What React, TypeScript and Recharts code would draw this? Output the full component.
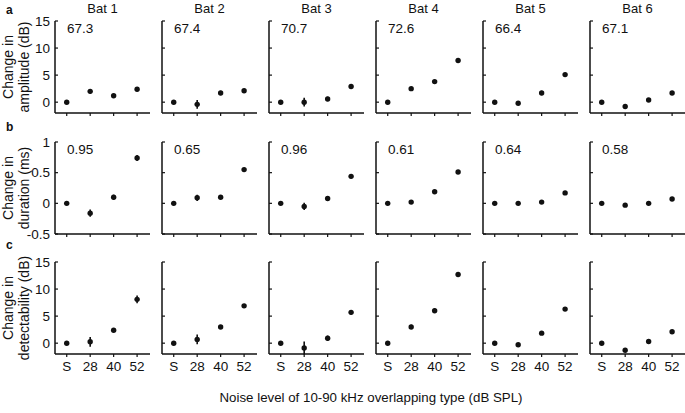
import { ScatterChart, Scatter, XAxis, YAxis, ErrorBar } from 'recharts';

// noise conditions on the x axis
const CATS = ['S', '28', '40', '52'];
const BATS = ['Bat 1', 'Bat 2', 'Bat 3', 'Bat 4', 'Bat 5', 'Bat 6'];

// row a: change in amplitude (dB)
const AMP = [
  [0, 2.0, 1.2, 2.4],
  [0, -0.4, 1.7, 2.1],
  [0, 0.0, 0.6, 2.9],
  [0, 2.5, 3.8, 7.7],
  [0, -0.2, 1.7, 5.1],
  [0, -0.8, 0.4, 1.7],
];
const AMP_ERR = [
  [0.2, 0.4, 0.3, 0.4],
  [0.2, 0.8, 0.4, 0.3],
  [0.2, 0.8, 0.4, 0.3],
  [0.2, 0.3, 0.3, 0.3],
  [0.2, 0.3, 0.4, 0.3],
  [0.2, 0.3, 0.3, 0.3],
];
const AMP_NOTES = ['67.3', '67.4', '70.7', '72.6', '66.4', '67.1'];

// row b: change in duration (ms)
const DUR = [
  [0, -0.16, 0.1, 0.74],
  [0, 0.09, 0.1, 0.55],
  [0, -0.05, 0.08, 0.44],
  [0, 0.02, 0.19, 0.51],
  [0, 0.0, 0.02, 0.17],
  [0, -0.03, 0.0, 0.07],
];
const DUR_ERR = [
  [0.02, 0.06, 0.04, 0.05],
  [0.02, 0.05, 0.03, 0.02],
  [0.02, 0.06, 0.03, 0.03],
  [0.02, 0.02, 0.02, 0.02],
  [0.02, 0.02, 0.02, 0.02],
  [0.02, 0.02, 0.02, 0.02],
];
const DUR_NOTES = ['0.95', '0.65', '0.96', '0.61', '0.64', '0.58'];

// row c: change in detectability (dB)
const DET = [
  [0, 0.25, 2.4, 8.1],
  [0, 0.7, 3.0, 6.9],
  [0, -0.9, 0.9, 5.7],
  [0, 3.0, 6.0, 12.7],
  [0, -0.3, 1.85, 6.3],
  [0, -1.3, 0.3, 2.1],
];
const DET_ERR = [
  [0.2, 0.9, 0.3, 0.7],
  [0.2, 0.9, 0.3, 0.3],
  [0.2, 1.2, 0.5, 0.4],
  [0.2, 0.4, 0.4, 0.4],
  [0.2, 0.3, 0.3, 0.3],
  [0.2, 0.3, 0.3, 0.3],
];

const ROWS = [
  { letter: 'a', values: AMP, errs: AMP_ERR, domain: [-2, 15], ticks: [0, 5, 10, 15], notes: AMP_NOTES, title: ['Change in', 'amplitude (dB)'] },
  { letter: 'b', values: DUR, errs: DUR_ERR, domain: [-0.5, 1], ticks: [-0.5, 0, 0.5, 1], notes: DUR_NOTES, title: ['Change in', 'duration (ms)'] },
  { letter: 'c', values: DET, errs: DET_ERR, domain: [-2, 15], ticks: [0, 5, 10, 15], notes: null, title: ['Change in', 'detectability (dB)'] },
];

const INK = '#111';
const COL_X = 55;
const COL_STEP = 107;
const PLOT_W = 95;
const PLOT_H = 92;
const ROW_TOP = [21, 142, 262];
const LETTER_Y = [14, 131, 249];

const YTick = ({ x, y, payload, showLabel }: any) => (
  <g>
    <line x1={x + 5} x2={x + 8} y1={y} y2={y} stroke={INK} strokeWidth={1.2} />
    {showLabel && (
      <text x={x} y={y + 4.8} textAnchor="end" fontSize={13.5} fill={INK}>
        {payload.value}
      </text>
    )}
  </g>
);

const XTick = ({ x, y, payload, showLabel }: any) =>
  showLabel ? (
    <text x={x} y={y + 10} textAnchor="middle" fontSize={13.5} fill={INK}>
      {CATS[payload.value - 1]}
    </text>
  ) : (
    <g />
  );

function Panel({ row, col }: { row: number; col: number }) {
  const r = ROWS[row];
  const data = CATS.map((c, i) => ({ x: i + 1, y: r.values[col][i], err: r.errs[col][i] }));
  return (
    <div style={{ position: 'absolute', left: COL_X + col * COL_STEP - 40, top: ROW_TOP[row] - 10 }}>
      <ScatterChart width={40 + PLOT_W + 10} height={10 + PLOT_H + 25} margin={{ top: 10, right: 10, bottom: 0, left: 30 }}>
        <XAxis
          type="number"
          dataKey="x"
          domain={[0.5, 4.55]}
          ticks={[1, 2, 3, 4]}
          interval={0}
          height={25}
          tickSize={3}
          tickMargin={4}
          tickLine={{ stroke: INK, strokeWidth: 1.2 }}
          axisLine={{ stroke: INK, strokeWidth: 1.5 }}
          tick={<XTick showLabel={row === 2} />}
        />
        <YAxis
          type="number"
          dataKey="y"
          domain={r.domain}
          ticks={r.ticks}
          interval={0}
          allowDataOverflow
          width={10}
          tickSize={0}
          tickMargin={5}
          tickLine={false}
          axisLine={{ stroke: INK, strokeWidth: 1.5 }}
          tick={<YTick showLabel={col === 0} />}
        />
        <Scatter
          data={data}
          isAnimationActive={false}
          shape={(p: any) => <circle cx={p.cx} cy={p.cy} r={2.7} fill={INK} />}
        >
          <ErrorBar dataKey="err" direction="y" width={0} stroke={INK} strokeWidth={1.6} isAnimationActive={false} />
        </Scatter>
      </ScatterChart>
    </div>
  );
}

export default function App() {
  return (
    <div
      style={{
        position: 'absolute',
        left: 0,
        top: 0,
        width: 685,
        height: 413,
        background: '#fff',
        fontFamily: 'Arial, "Liberation Sans", sans-serif',
      }}
    >
      {ROWS.map((r, ri) => BATS.map((b, ci) => <Panel key={`${ri}-${ci}`} row={ri} col={ci} />))}
      <svg width={685} height={413} style={{ position: 'absolute', left: 0, top: 0, pointerEvents: 'none' }}>
        {BATS.map((b, ci) => (
          <text key={b} x={COL_X + ci * COL_STEP + PLOT_W / 2} y={13} textAnchor="middle" fontSize={13} fill={INK}>
            {b}
          </text>
        ))}
        {ROWS.map((r, ri) => (
          <g key={r.letter}>
            <text x={6} y={LETTER_Y[ri]} fontSize={12} fontWeight="bold" fill={INK}>
              {r.letter}
            </text>
            <text transform={`translate(13,${ROW_TOP[ri] + PLOT_H / 2}) rotate(-90)`} textAnchor="middle" fontSize={14} fill={INK}>
              {r.title[0]}
            </text>
            <text transform={`translate(29,${ROW_TOP[ri] + PLOT_H / 2}) rotate(-90)`} textAnchor="middle" fontSize={14} fill={INK}>
              {r.title[1]}
            </text>
            {r.notes &&
              r.notes.map((n, ci) => (
                <text key={n + ci} x={COL_X + ci * COL_STEP + 12} y={ROW_TOP[ri] + 12} fontSize={13.5} fill={INK}>
                  {n}
                </text>
              ))}
          </g>
        ))}
        <text x={371} y={402} textAnchor="middle" fontSize={13.3} fill={INK}>
          Noise level of 10-90 kHz overlapping type (dB SPL)
        </text>
      </svg>
    </div>
  );
}
